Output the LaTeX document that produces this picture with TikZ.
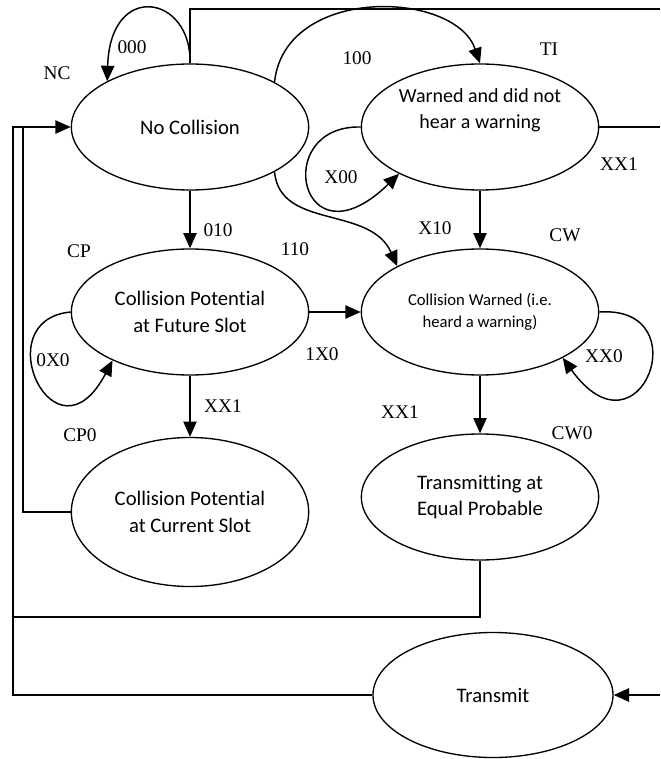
\documentclass[tikz,border=0pt]{standalone}
\usepackage{fontspec}
\setmainfont{Liberation Serif}
\newfontfamily\statefont[Ligatures=NoCommon]{Carlito}
\usepackage{tikz}
\usetikzlibrary{arrows.meta,shapes.geometric}
\tikzstyle{state} = [draw, ellipse, line width=1pt, inner sep=0pt, align=center, minimum width=178pt, minimum height=94.5pt, font=\statefont\fontsize{15.5}{20}\selectfont]
\tikzstyle{trans} = [line width=1.1pt, -{Triangle[length=11.5pt,width=10pt]}]
\tikzstyle{wire} = [line width=1.1pt]
\tikzstyle{lbl} = [inner sep=0pt, font=\fontsize{14.5}{17}\selectfont]

\begin{document}
\begin{tikzpicture}[x=0.75pt, y=-0.75pt]
\useasboundingbox (0,0) rectangle (660,759);

% States
\node[state] (nc) at (190,127) {No Collision};
\node[state, label={[align=center, font=\statefont\fontsize{15}{19}\selectfont, yshift=12.5pt]center:Warned and did not\\hear a warning}] (ti) at (480,127) {};
\node[state] (cp) at (190,312) {Collision Potential\\at Future Slot};
\node[state, font=\statefont\fontsize{12.5}{17}\selectfont] (cw) at (480,312) {Collision Warned (i.e.\\heard a warning)};
\node[state, minimum height=111.75pt] (cpz) at (190,512) {Collision Potential\\at Current Slot};
\node[state] (cwz) at (480,497) {Transmitting at\\Equal Probable};
\node[state, minimum width=180pt, minimum height=93.75pt] (tx) at (493,695) {Transmit};

% Free ends at the right edge
\coordinate (topend) at (660,9);
\coordinate (tiend) at (660,127);
\coordinate (txin) at (660,695);

% Transitions
\draw[trans] (nc.north) .. controls (192,-5) and (110,-20) .. (nc.151.5);
\draw[wire] (nc.north) |- (topend);
\draw[trans] (nc.28) .. controls (285,-15) and (455,-10) .. (ti.north);
\draw[trans] (ti.west) .. controls (270,125) and (300,270) .. (ti.210.5);
\draw[wire] (ti.east) -- (tiend);
\draw[trans] (ti.south) -- (cw.north);
\draw[trans] (nc.-28) .. controls (280,230) and (370,205) .. (cw.151);
\draw[trans] (nc.south) -- (cp.north);
\draw[trans] (cp.west) .. controls (-15,320) and (55,470) .. (cp.-148.6);
\draw[trans] (cp.east) -- (cw.west);
\draw[trans] (cw.east) .. controls (700,305) and (640,465) .. (cw.-29);
\draw[trans] (cp.south) -- (cpz.north);
\draw[trans] (cw.south) -- (cwz.north);

% Back to No Collision
\draw[trans] (tx.west) -| (13,127) -- (nc.west);
\draw[wire] (cpz.west) -| (23,127);
\draw[wire] (cwz.south) |- (13,617);
\draw[trans] (txin) -- (tx.east);

% Labels
\node[lbl] (ncname) at (57,73) {NC};
\node[lbl] (tiname) at (549,49) {TI};
\node[lbl] (cpname) at (79,251) {CP};
\node[lbl] (cwname) at (565,235) {CW};
\node[lbl] (cpzname) at (80,435) {CP0};
\node[lbl] (cwzname) at (572,433) {CW0};
\node[lbl] (l000) at (132,47) {000};
\node[lbl] (l100) at (357,58) {100};
\node[lbl] (lx00) at (341,177) {X00};
\node[lbl] (lxx1a) at (619,164) {XX1};
\node[lbl] (lx10) at (435,228) {X10};
\node[lbl] (l010) at (218,230) {010};
\node[lbl] (l110) at (295,249) {110};
\node[lbl] (l1x0) at (322,354) {1X0};
\node[lbl] (l0x0) at (53,360) {0X0};
\node[lbl] (lxx0) at (604,356) {XX0};
\node[lbl] (lxx1b) at (223,406) {XX1};
\node[lbl] (lxx1c) at (400,412) {XX1};
\end{tikzpicture}
\end{document}
